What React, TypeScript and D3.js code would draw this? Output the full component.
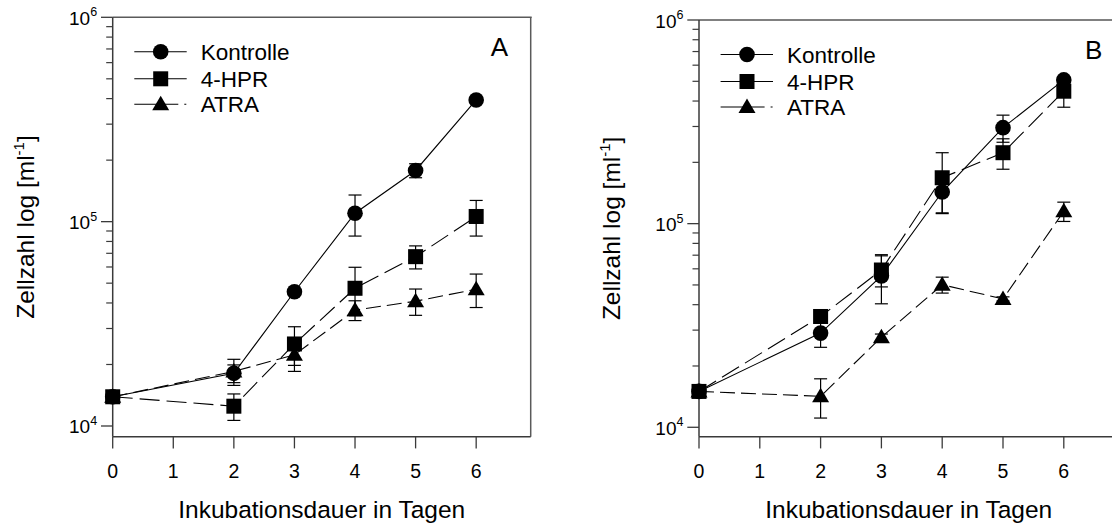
import React from "react";
import * as d3 from "d3";

// ---------- data ----------
const days = [0, 2, 3, 4, 5, 6];
const xTicks = [0, 1, 2, 3, 4, 5, 6];
const seriesNames = ["Kontrolle", "4-HPR", "ATRA"];

const kontrolleA = [13900, 18100, 45400, 110000, 178000, 394000];
const kontrolleASd = [0, 1800, 1500, 25000, 14000, 10000];
const hprA = [13900, 12500, 25200, 47200, 67400, 106000];
const hprASd = [0, 1850, 5400, 12600, 8700, 21000];
const atraA = [13900, 18500, 22300, 36900, 40800, 46700];
const atraASd = [0, 2700, 3800, 4100, 6000, 8700];

const kontrolleB = [15000, 29000, 55400, 143000, 296000, 508000];
const kontrolleBSd = [0, 4300, 15000, 31000, 45000, 15000];
const hprB = [15000, 35000, 59200, 168000, 223000, 447000];
const hprBSd = [0, 1500, 10300, 55000, 38000, 74000];
const atraB = [15000, 14200, 27700, 50100, 42700, 115000];
const atraBSd = [0, 3100, 1000, 4500, 1000, 12500];

const yMajor = [1e4, 1e5, 1e6];
const yMajorExp = ["4", "5", "6"];

// ---------- styles ----------
const FONT = "'Liberation Sans', Arial, Helvetica, sans-serif";
const AXIS = "#3a3a3a";
const dashes = ["none", "20,7", "15,6"];

type Panel = {
  letter: string;
  left: number;
  top: number;
  bottom: number;
  unit: number;
  yMin: number;
  values: number[][];
  sds: number[][];
  topStroke: string;
  topWidth: number;
};

const panels: Panel[] = [
  {
    letter: "A",
    left: 112.7,
    top: 17.3,
    bottom: 436.7,
    unit: 60.58,
    yMin: 8864,
    values: [kontrolleA, hprA, atraA],
    sds: [kontrolleASd, hprASd, atraASd],
    topStroke: "#5a5a5a",
    topWidth: 1.5,
  },
  {
    letter: "B",
    left: 699,
    top: 20,
    bottom: 436.7,
    unit: 60.8,
    yMin: 8990,
    values: [kontrolleB, hprB, atraB],
    sds: [kontrolleBSd, hprBSd, atraBSd],
    topStroke: "#808080",
    topWidth: 2,
  },
];

function Marker({ kind, x, y }: { kind: number; x: number; y: number }) {
  if (kind === 0) return <circle cx={x} cy={y} r={7.8} fill="#000" />;
  if (kind === 1)
    return <rect x={x - 7.5} y={y - 7.5} width={15} height={15} fill="#000" />;
  return (
    <path
      d={`M${x},${y - 8.5} L${x + 8.5},${y + 6} L${x - 8.5},${y + 6} Z`}
      fill="#000"
    />
  );
}

function PanelView({ p }: { p: Panel }) {
  const right = p.left + 6.9 * p.unit;
  const x = d3.scaleLinear().domain([0, 6.9]).range([p.left, right]);
  const y = d3.scaleLog().domain([p.yMin, 1e6]).range([p.bottom, p.top]);
  const minor: number[] = [];
  [1e4, 1e5].forEach((d) => {
    for (let k = 2; k <= 9; k++) minor.push(d * k);
  });
  const line = d3
    .line<number>()
    .x((_, i) => x(days[i]))
    .y((v) => y(v));

  const legendRows = [p.top + 34.5, p.top + 61.5, p.top + 87];
  const lx0 = p.left + 21.6;
  const lx1 = p.left + 74;
  const lmx = p.left + 48;
  const ltx = p.left + 88;
  const midY = (p.top + p.bottom) / 2;
  const titleX = p.left - 87.7;

  return (
    <g>
      {/* frame */}
      <line x1={p.left} x2={right + 1} y1={p.top} y2={p.top} stroke={p.topStroke} strokeWidth={p.topWidth} />
      <line x1={right} x2={right} y1={p.top} y2={p.bottom} stroke="#5a5a5a" strokeWidth={1.5} />
      <line x1={p.left} x2={p.left} y1={p.top} y2={p.bottom} stroke={AXIS} strokeWidth={1.5} />
      <line x1={p.left} x2={right} y1={p.bottom} y2={p.bottom} stroke={AXIS} strokeWidth={1.5} />

      {/* y ticks */}
      {yMajor.map((v, i) => (
        <g key={"ym" + i}>
          <line x1={p.left - 11.7} x2={p.left} y1={y(v)} y2={y(v)} stroke={AXIS} strokeWidth={1.3} />
          <text
            x={p.left - 22.5}
            y={y(v) + 7.5}
            textAnchor="end"
            fontSize={19}
            fontFamily={FONT}
            fill="#000"
          >
            10
          </text>
          <text x={p.left - 22.5} y={y(v) - 1} fontSize={12.5} fontFamily={FONT} fill="#000">
            {yMajorExp[i]}
          </text>
        </g>
      ))}
      {minor.map((v, i) => (
        <line key={"yn" + i} x1={p.left - 6.5} x2={p.left} y1={y(v)} y2={y(v)} stroke={AXIS} strokeWidth={1.2} />
      ))}

      {/* x ticks */}
      {xTicks.map((t) => (
        <g key={"xt" + t}>
          <line x1={x(t)} x2={x(t)} y1={p.bottom} y2={p.bottom + 11.7} stroke={AXIS} strokeWidth={1.3} />
          <text x={x(t)} y={p.bottom + 41.5} textAnchor="middle" fontSize={19.5} fontFamily={FONT} fill="#000">
            {t}
          </text>
        </g>
      ))}

      {/* axis titles */}
      <text
        x={(p.left + right) / 2}
        y={p.bottom + 81.5}
        textAnchor="middle"
        fontSize={24.5}
        fontFamily={FONT}
        fill="#000"
      >
        Inkubationsdauer in Tagen
      </text>
      <text
        transform={`translate(${titleX + 8.5},${midY}) rotate(-90)`}
        textAnchor="middle"
        fontSize={24.5}
        fontFamily={FONT}
        fill="#000"
      >
        Zellzahl log [ml
        <tspan fontSize={15} dy={-10}>-1</tspan>
        <tspan dy={10}>]</tspan>
      </text>

      {/* series lines */}
      {p.values.map((vals, si) => (
        <path
          key={"l" + si}
          d={line(vals) || ""}
          fill="none"
          stroke="#000"
          strokeWidth={1.1}
          strokeDasharray={dashes[si]}
        />
      ))}

      {/* error bars */}
      {p.values.map((vals, si) =>
        vals.map((v, i) => {
          const sd = p.sds[si][i];
          if (!sd) return null;
          const cx = x(days[i]);
          const y1 = y(v + sd);
          const y0 = y(Math.max(v - sd, p.yMin));
          return (
            <g key={`e${si}-${i}`} stroke="#000" strokeWidth={1.2}>
              <line x1={cx} x2={cx} y1={y1} y2={y0} />
              <line x1={cx - 6.5} x2={cx + 6.5} y1={y1} y2={y1} />
              <line x1={cx - 6.5} x2={cx + 6.5} y1={y0} y2={y0} />
            </g>
          );
        })
      )}

      {/* markers */}
      {p.values.map((vals, si) =>
        vals.map((v, i) => <Marker key={`m${si}-${i}`} kind={si} x={x(days[i])} y={y(v)} />)
      )}

      {/* legend */}
      {seriesNames.map((name, si) => (
        <g key={"lg" + si}>
          <line
            x1={lx0}
            x2={lx1}
            y1={legendRows[si]}
            y2={legendRows[si]}
            stroke="#000"
            strokeWidth={1.1}
            strokeDasharray={si === 2 ? "44,6,2,10" : "none"}
          />
          <Marker kind={si} x={lmx} y={legendRows[si]} />
          <text
            x={ltx}
            y={legendRows[si] + 8}
            fontSize={22.5}
            fontFamily={FONT}
            fill="#000"
          >
            {name}
          </text>
        </g>
      ))}

      {/* panel letter */}
      <text
        x={p.letter === "A" ? p.left + 378 : p.left + 386}
        y={p.top + 39}
        fontSize={26}
        fontFamily={FONT}
        fill="#000"
      >
        {p.letter}
      </text>
    </g>
  );
}

export default function App() {
  return (
    <svg
      width={1112}
      height={526}
      viewBox="0 0 1112 526"
      style={{ position: "absolute", left: 0, top: 0, background: "#fff" }}
    >
      <rect width={1112} height={526} fill="#fff" />
      {panels.map((p) => (
        <PanelView key={p.letter} p={p} />
      ))}
    </svg>
  );
}
